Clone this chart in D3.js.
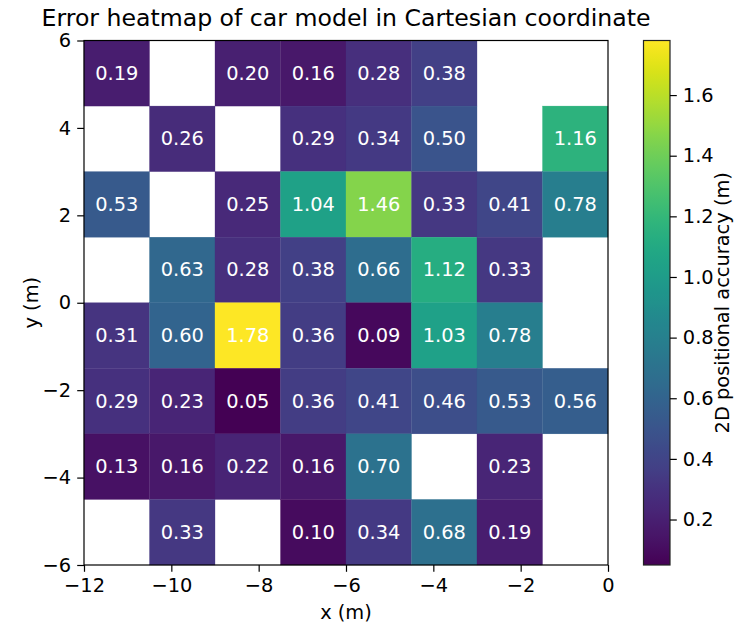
<!DOCTYPE html>
<html>
<head>
<meta charset="utf-8">
<script src="https://cdn.jsdelivr.net/npm/d3@7"></script>
<style>
  html, body { margin: 0; padding: 0; background: #fff; }
  svg text { font-family: "DejaVu Sans", sans-serif; }
</style>
</head>
<body>
<svg id="chart" width="747" height="625"></svg>
<script>
// Cell edges along x and y (metres)
const xEdges = [-12, -10.5, -9, -7.5, -6, -4.5, -3, -1.5, 0];
const yEdges = [-6, -4.5, -3, -1.5, 0, 1.5, 3, 4.5, 6];

// Mean 2D positional error per cell, rows listed from top (y = 6) to bottom (y = -6); null = no data
const row1 = [0.19, null, 0.20, 0.16, 0.28, 0.38, null, null];
const row2 = [null, 0.26, null, 0.29, 0.34, 0.50, null, 1.16];
const row3 = [0.53, null, 0.25, 1.04, 1.46, 0.33, 0.41, 0.78];
const row4 = [null, 0.63, 0.28, 0.38, 0.66, 1.12, 0.33, null];
const row5 = [0.31, 0.60, 1.78, 0.36, 0.09, 1.03, 0.78, null];
const row6 = [0.29, 0.23, 0.05, 0.36, 0.41, 0.46, 0.53, 0.56];
const row7 = [0.13, 0.16, 0.22, 0.16, 0.70, null, 0.23, null];
const row8 = [null, 0.33, null, 0.10, 0.34, 0.68, 0.19, null];
const rows = [row1, row2, row3, row4, row5, row6, row7, row8];

const xTicks = [-12, -10, -8, -6, -4, -2, 0];
const yTicks = [-6, -4, -2, 0, 2, 4, 6];
const cbTicks = [0.2, 0.4, 0.6, 0.8, 1.0, 1.2, 1.4, 1.6];

const titleText = "Error heatmap of car model in Cartesian coordinate";
const xLabel = "x (m)";
const yLabel = "y (m)";
const cbLabel = "2D positional accuracy (m)";

// Layout
const plot = { left: 84, top: 40.5, width: 524, height: 524.5 };
const cbar = { left: 643.5, width: 26.5 };
const fontSize = 19.4;
const tickLen = 6.8;

const svg = d3.select("#chart");

const x = d3.scaleLinear().domain([-12, 0]).range([plot.left, plot.left + plot.width]);
const y = d3.scaleLinear().domain([-6, 6]).range([plot.top + plot.height, plot.top]);

const allVals = rows.flat().filter(v => v !== null);
const vmin = d3.min(allVals), vmax = d3.max(allVals);
const color = d3.scaleSequential(d3.interpolateViridis).domain([vmin, vmax]);

// Flatten cells with their bounds
const cells = [];
rows.forEach((r, ri) => {
  const yTop = yEdges[yEdges.length - 1 - ri];
  const yBot = yEdges[yEdges.length - 2 - ri];
  r.forEach((v, ci) => {
    if (v === null) return;
    cells.push({ v, x0: xEdges[ci], x1: xEdges[ci + 1], y0: yBot, y1: yTop });
  });
});

const g = svg.append("g");
g.selectAll("rect.cell").data(cells).join("rect")
  .attr("class", "cell")
  .attr("x", d => x(d.x0))
  .attr("y", d => y(d.y1))
  .attr("width", d => x(d.x1) - x(d.x0))
  .attr("height", d => y(d.y0) - y(d.y1))
  .attr("fill", d => color(d.v))
  .attr("stroke", d => color(d.v))
  .attr("stroke-width", 0.3);

g.selectAll("text.val").data(cells).join("text")
  .attr("class", "val")
  .attr("x", d => x((d.x0 + d.x1) / 2))
  .attr("y", d => y((d.y0 + d.y1) / 2))
  .attr("text-anchor", "middle")
  .attr("dominant-baseline", "central")
  .attr("fill", "#fff")
  .attr("font-size", fontSize)
  .text(d => d.v.toFixed(2));

// Axes
const fmt = d => d < 0 ? "\u2212" + Math.abs(d) : String(d);
const xAxis = svg.append("g")
  .attr("transform", `translate(0,${plot.top + plot.height})`)
  .call(d3.axisBottom(x).tickValues(xTicks).tickFormat(fmt).tickSize(tickLen).tickPadding(6));
const yAxis = svg.append("g")
  .attr("transform", `translate(${plot.left},0)`)
  .call(d3.axisLeft(y).tickValues(yTicks).tickFormat(fmt).tickSize(tickLen).tickPadding(6));
[xAxis, yAxis].forEach(a => {
  a.select(".domain").remove();
  a.selectAll("line").attr("stroke", "#000").attr("stroke-width", 1.2);
  a.selectAll("text").attr("font-size", fontSize).attr("fill", "#000")
    .style("font-family", "DejaVu Sans, sans-serif");
});

// Plot frame
svg.append("rect")
  .attr("x", plot.left).attr("y", plot.top)
  .attr("width", plot.width).attr("height", plot.height)
  .attr("fill", "none").attr("stroke", "#000").attr("stroke-width", 1.2);

// Colorbar
const cbY = d3.scaleLinear().domain([vmin, vmax]).range([plot.top + plot.height, plot.top]);
const defs = svg.append("defs");
const grad = defs.append("linearGradient").attr("id", "cbgrad")
  .attr("x1", 0).attr("y1", 1).attr("x2", 0).attr("y2", 0);
d3.range(0, 1.0001, 0.02).forEach(t => {
  grad.append("stop").attr("offset", t).attr("stop-color", d3.interpolateViridis(t));
});
svg.append("rect")
  .attr("x", cbar.left).attr("y", plot.top)
  .attr("width", cbar.width).attr("height", plot.height)
  .attr("fill", "url(#cbgrad)")
  .attr("stroke", "#222").attr("stroke-width", 1.2);

const cbAxis = svg.append("g")
  .attr("transform", `translate(${cbar.left + cbar.width},0)`)
  .call(d3.axisRight(cbY).tickValues(cbTicks).tickFormat(d3.format(".1f")).tickSize(tickLen).tickPadding(6));
cbAxis.select(".domain").remove();
cbAxis.selectAll("line").attr("stroke", "#000").attr("stroke-width", 1.2);
cbAxis.selectAll("text").attr("font-size", fontSize).attr("fill", "#000")
  .style("font-family", "DejaVu Sans, sans-serif");

// Labels
svg.append("text")
  .attr("x", plot.left + plot.width / 2).attr("y", 26)
  .attr("text-anchor", "middle").attr("font-size", 23.6).attr("fill", "#000")
  .text(titleText);
svg.append("text")
  .attr("x", plot.left + plot.width / 2).attr("y", 619)
  .attr("text-anchor", "middle").attr("font-size", fontSize).attr("fill", "#000")
  .text(xLabel);
svg.append("text")
  .attr("transform", `translate(38,${plot.top + plot.height / 2}) rotate(-90)`)
  .attr("text-anchor", "middle").attr("font-size", fontSize).attr("fill", "#000")
  .text(yLabel);
svg.append("text")
  .attr("transform", `translate(729,${plot.top + plot.height / 2}) rotate(-90)`)
  .attr("text-anchor", "middle").attr("font-size", fontSize).attr("fill", "#000")
  .text(cbLabel);
</script>
</body>
</html>
